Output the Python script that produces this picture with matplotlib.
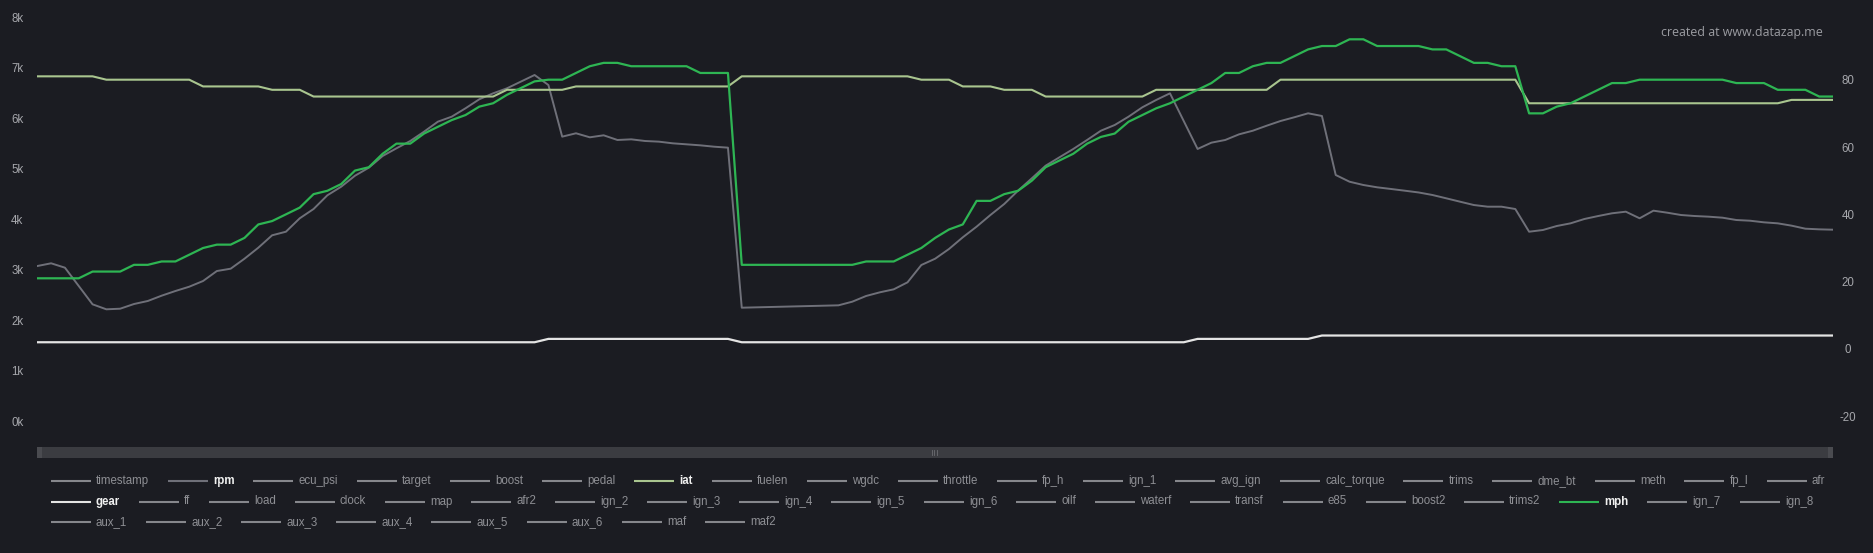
import matplotlib.pyplot as plt
from matplotlib import font_manager as fm
from matplotlib.patches import Rectangle

# ---- data (sample index -> value) ----
rpm_idx = list(range(0, 52)) + list(range(58, 83)) + list(range(84, 131))
rpm_val = [3072, 3126, 3039, 2676, 2313, 2214, 2226, 2319, 2379, 2484,
           2577, 2662, 2775, 2973, 3019, 3217, 3435, 3681, 3752, 4018,
           4202, 4474, 4644, 4862, 5021, 5253, 5405, 5550, 5735, 5933,
           6032, 6198, 6377, 6495, 6594, 6726, 6858, 6660, 5636, 5703,
           5623, 5663, 5570, 5583, 5550, 5537, 5504, 5484, 5464, 5437,
           5418, 2246,
           2293, 2365, 2478, 2551, 2610, 2749, 3092, 3217, 3409, 3641,
           3852, 4083, 4301, 4565, 4811, 5061, 5227, 5392, 5570, 5754,
           5867, 6032, 6218, 6363, 6495,
           5392, 5517, 5570, 5682, 5754, 5853, 5946, 6020, 6099, 6046,
           4876, 4743, 4678, 4632, 4599, 4565, 4530, 4480, 4414, 4347,
           4281, 4248, 4248, 4202, 3752, 3786, 3865, 3918, 4004, 4063,
           4117, 4149, 4018, 4169, 4129, 4083, 4063, 4050, 4030, 3984,
           3970, 3938, 3918, 3872, 3812, 3799, 3792]

iat_idx = [0, 4, 5, 11, 12, 16, 17, 19, 20, 33, 34, 38, 39, 50, 51, 63,
           64, 66, 67, 69, 70, 72, 73, 80, 81, 89, 90, 107, 108, 126, 127, 130]
iat_val = [81, 81, 80, 80, 78, 78, 77, 77, 75, 75, 77, 77, 78, 78, 81, 81,
           80, 80, 78, 78, 77, 77, 75, 75, 77, 77, 80, 80, 73, 73, 74, 74]

gear_idx = [0, 36, 37, 50, 51, 83, 84, 92, 93, 130]
gear_val = [2, 2, 3, 3, 2, 2, 3, 3, 4, 4]

mph_idx = [0, 3, 4, 6, 7, 8, 9, 10, 11, 12, 13, 14, 15, 16, 17, 18, 19,
           20, 21, 22, 23, 24, 25, 26, 27, 28, 29, 30, 31, 32, 33, 34, 35,
           36, 37, 38, 39, 40, 41, 42, 43, 47, 48, 50, 51, 59, 60, 62, 63,
           64, 65, 66, 67, 68, 69, 70, 71, 72, 73, 74, 75, 76, 77, 78, 79,
           80, 81, 82, 83, 84, 85, 86, 87, 88, 89, 90, 91, 92, 93, 94, 95,
           96, 97, 100, 101, 102, 103, 104, 105, 106, 107, 108, 109, 110,
           111, 112, 113, 114, 115, 116, 122, 123, 125, 126, 128, 129, 130]
mph_val = [21, 21, 23, 23, 25, 25, 26, 26, 28, 30, 31, 31, 33, 37, 38, 40, 42,
           46, 47, 49, 53, 54, 58, 61, 61, 64, 66, 68, 69.5, 72, 73, 75.5, 77.5,
           79.5, 80, 80, 82, 84, 85, 85, 84, 84, 82, 82, 25, 25, 26, 26, 28,
           30, 33, 35.5, 37, 44, 44, 46, 47, 50, 54, 56, 58, 61, 63, 64, 67.5,
           69.5, 71.5, 73, 75, 77, 79, 82, 82, 84, 85, 85, 87, 89, 90, 90, 92,
           92, 90, 90, 89, 89, 87, 85, 85, 84, 84, 70, 70, 72,
           73, 75, 77, 79, 79, 80, 80, 79, 79, 77, 77, 75, 75]

left_ticks = [0, 1000, 2000, 3000, 4000, 5000, 6000, 7000, 8000]
right_ticks = [-20, 0, 20, 40, 60, 80]

legend_rows = [
    ['timestamp', 'rpm', 'ecu_psi', 'target', 'boost', 'pedal', 'iat', 'fuelen',
     'wgdc', 'throttle', 'fp_h', 'ign_1', 'avg_ign', 'calc_torque', 'trims',
     'dme_bt', 'meth', 'fp_l', 'afr'],
    ['gear', 'ff', 'load', 'clock', 'map', 'afr2', 'ign_2', 'ign_3', 'ign_4',
     'ign_5', 'ign_6', 'oilf', 'waterf', 'transf', 'e85', 'boost2', 'trims2',
     'mph', 'ign_7', 'ign_8'],
    ['aux_1', 'aux_2', 'aux_3', 'aux_4', 'aux_5', 'aux_6', 'maf', 'maf2'],
]

# ---- style ----
bg = '#1b1c22'
colors = {'rpm': '#6f7079', 'iat': '#a9c58f', 'gear': '#e4e4e4', 'mph': '#2eb553'}
W, H = 1874, 553

try:
    fm.findfont('Liberation Sans Narrow', fallback_to_default=False)
    narrow, fs, gap = 'Liberation Sans Narrow', 9.4, 20
except ValueError:
    narrow, fs, gap = 'Liberation Sans', 8.3, 18.6

fig = plt.figure(figsize=(W / 100, H / 100), dpi=100, facecolor=bg)

# plot area: x 37.3..1833 px, y 8..436 px (from top)
ax = fig.add_axes([37.3 / W, 1 - 436 / H, (1833 - 37.3) / W, 428 / H])
ax.set_facecolor(bg)
ax.plot(rpm_idx, rpm_val, color=colors['rpm'], lw=1.4)
ax.set_xlim(0, 130)
ax.set_ylim(-297, 8186)
ax.set_xticks([])
ax.set_yticks(left_ticks)
ax.set_yticklabels([f'{v // 1000}k' for v in left_ticks])

ax2 = ax.twinx()
ax2.plot(iat_idx, iat_val, color=colors['iat'], lw=1.5)
ax2.plot(gear_idx, gear_val, color=colors['gear'], lw=1.6)
ax2.plot(mph_idx, mph_val, color=colors['mph'], lw=1.6)
ax2.set_ylim(-25.85, 101.3)
ax2.set_yticks(right_ticks)
ax2.set_yticklabels([str(v) for v in right_ticks])

for a, pad in ((ax, 14.4), (ax2, 10.8)):
    for s in a.spines.values():
        s.set_visible(False)
    a.tick_params(axis='y', length=0, pad=pad, labelsize=fs, labelcolor='#a6a7ac')
    for lab in a.get_yticklabels():
        lab.set_family(narrow)
        lab.set_ha('center')

fig.text(1823 / W, 1 - 32.3 / H, 'created at www.datazap.me', ha='right', va='center',
         family='Open Sans', fontsize=8.9, color='#9c9da2')

# overlay in pixel coordinates for range slider and legend
lg = fig.add_axes([0, 0, 1, 1], facecolor='none')
lg.set_xlim(0, W)
lg.set_ylim(H, 0)
lg.axis('off')

lg.add_patch(Rectangle((37.5, 446.7), 1796, 11, color='#3b3c41', lw=0))
lg.add_patch(Rectangle((37.5, 446.7), 5, 11, color='#4a4b50', lw=0))
lg.add_patch(Rectangle((1828.5, 446.7), 5, 11, color='#4a4b50', lw=0))
for gx in (932, 934.5, 937):
    lg.plot([gx, gx], [450, 454.5], color='#6c6d72', lw=0.6)

renderer = fig.canvas.get_renderer()
for r, names in enumerate(legend_rows):
    y = 480.7 + 20.8 * r
    x = 50.6
    for name in names:
        on = name in colors
        lg.plot([x, x + 40], [y, y], color=colors[name] if on else '#86878c',
                lw=1.5, solid_capstyle='butt')
        t = lg.text(x + 45.3, y, name, ha='left', va='center', family=narrow, fontsize=fs,
                    color='#f0f0f0' if on else '#8e8f94',
                    fontweight='bold' if on else 'normal')
        x = x + 45.3 + t.get_window_extent(renderer).width + gap

fig.savefig('out.png', dpi=100, facecolor=bg)
